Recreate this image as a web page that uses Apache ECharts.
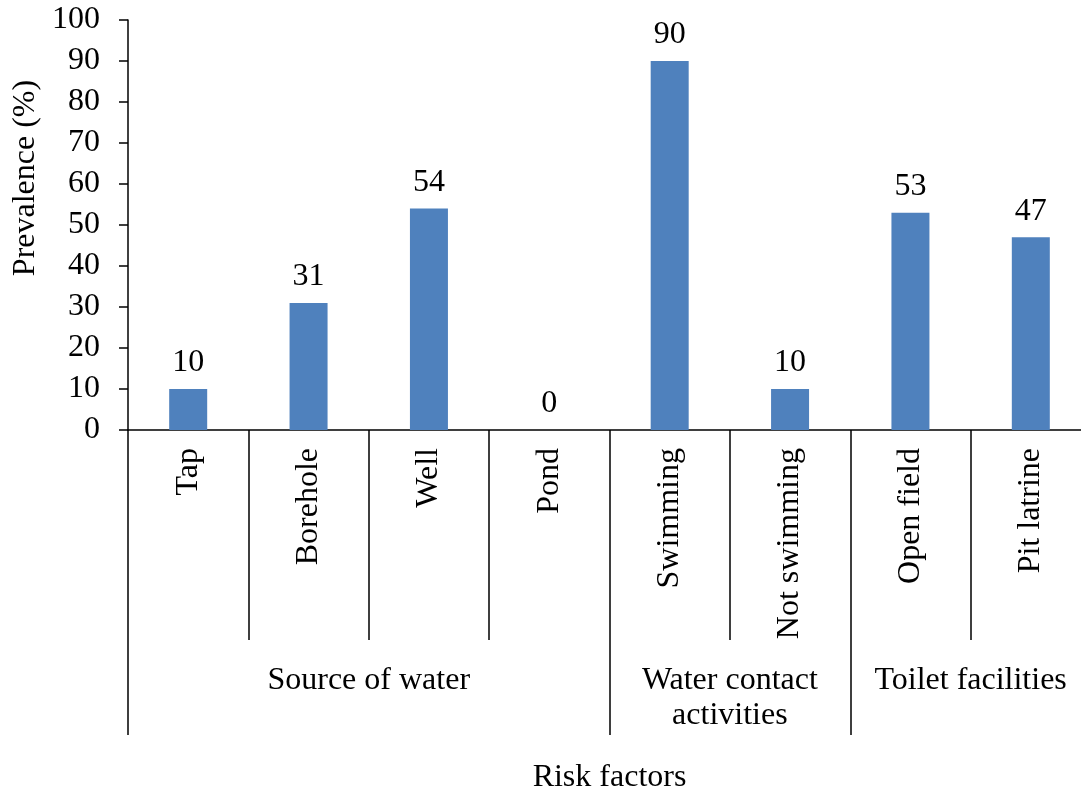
<!DOCTYPE html>
<html>
<head>
<meta charset="utf-8">
<script src="https://cdn.jsdelivr.net/npm/echarts@6/dist/echarts.min.js"></script>
<style>
  html, body { margin: 0; padding: 0; background: #fff; }
  #chart { width: 1081px; height: 792px; }
</style>
</head>
<body>
<div id="chart"></div>
<script>
// Risk factor categories and prevalence (%)
const categories = ['Tap', 'Borehole', 'Well', 'Pond', 'Swimming', 'Not swimming', 'Open field', 'Pit latrine'];
const prevalence = [10, 31, 54, 0, 90, 10, 53, 47];

// Groups of risk factors and how many categories each spans
const groupNames = ['Source of water', 'Water contact\nactivities', 'Toilet facilities'];
const groupSizes = [4, 2, 2];

const yTicks = [0, 10, 20, 30, 40, 50, 60, 70, 80, 90, 100];

// Group boundaries and centres in category units
const groupEdges = [0];
groupSizes.forEach(s => groupEdges.push(groupEdges[groupEdges.length - 1] + s));
const groupCentres = groupSizes.map((s, i) => groupEdges[i] + s / 2);

const FONT = '"Liberation Serif", "Times New Roman", serif';
const SIZE = 32;
const INK = '#000';

const chart = echarts.init(document.getElementById('chart'));
chart.setOption({
  animation: false,
  backgroundColor: '#fff',
  grid: {
    left: 128, top: 20, width: 963, height: 410,
    containLabel: false,
    outerBoundsMode: 'none'
  },
  xAxis: [
    {
      type: 'category',
      data: categories,
      boundaryGap: true,
      axisLine: { show: true, lineStyle: { color: INK, width: 1.5 } },
      axisTick: { show: true, interval: 0, alignWithLabel: false, length: 210, lineStyle: { color: INK, width: 1.5 } },
      axisLabel: {
        interval: 0, rotate: 90, margin: 18,
        color: INK, fontFamily: FONT, fontSize: SIZE
      },
      splitLine: { show: false }
    },
    {
      type: 'value',
      position: 'bottom',
      min: 0,
      max: categories.length,
      axisLine: { show: false },
      axisTick: {
        show: true, length: 305,
        customValues: groupEdges,
        lineStyle: { color: INK, width: 1.5 }
      },
      axisLabel: {
        show: true, margin: 233,
        customValues: groupCentres,
        formatter: v => groupNames[groupCentres.indexOf(v)],
        color: INK, fontFamily: FONT, fontSize: SIZE, lineHeight: 35
      },
      splitLine: { show: false },
      name: 'Risk factors',
      nameLocation: 'middle',
      nameGap: 330,
      nameTextStyle: { color: INK, fontFamily: FONT, fontSize: SIZE, lineHeight: 35 }
    }
  ],
  yAxis: {
    type: 'value',
    min: yTicks[0],
    max: yTicks[yTicks.length - 1],
    interval: yTicks[1] - yTicks[0],
    name: 'Prevalence (%)',
    nameLocation: 'middle',
    nameGap: 86,
    nameTextStyle: { color: INK, fontFamily: FONT, fontSize: SIZE, padding: [0, 0, 0, 94] },
    axisLine: { show: true, lineStyle: { color: INK, width: 1.5 } },
    axisTick: { show: true, inside: false, length: 9, lineStyle: { color: INK, width: 1.5 } },
    axisLabel: { margin: 28, color: INK, fontFamily: FONT, fontSize: SIZE },
    splitLine: { show: false }
  },
  series: [{
    type: 'bar',
    xAxisIndex: 0,
    data: prevalence,
    barWidth: 38,
    itemStyle: { color: '#4F81BD' },
    label: {
      show: true, position: 'top', distance: 10,
      color: INK, fontFamily: FONT, fontSize: SIZE
    }
  }]
});
</script>
</body>
</html>
